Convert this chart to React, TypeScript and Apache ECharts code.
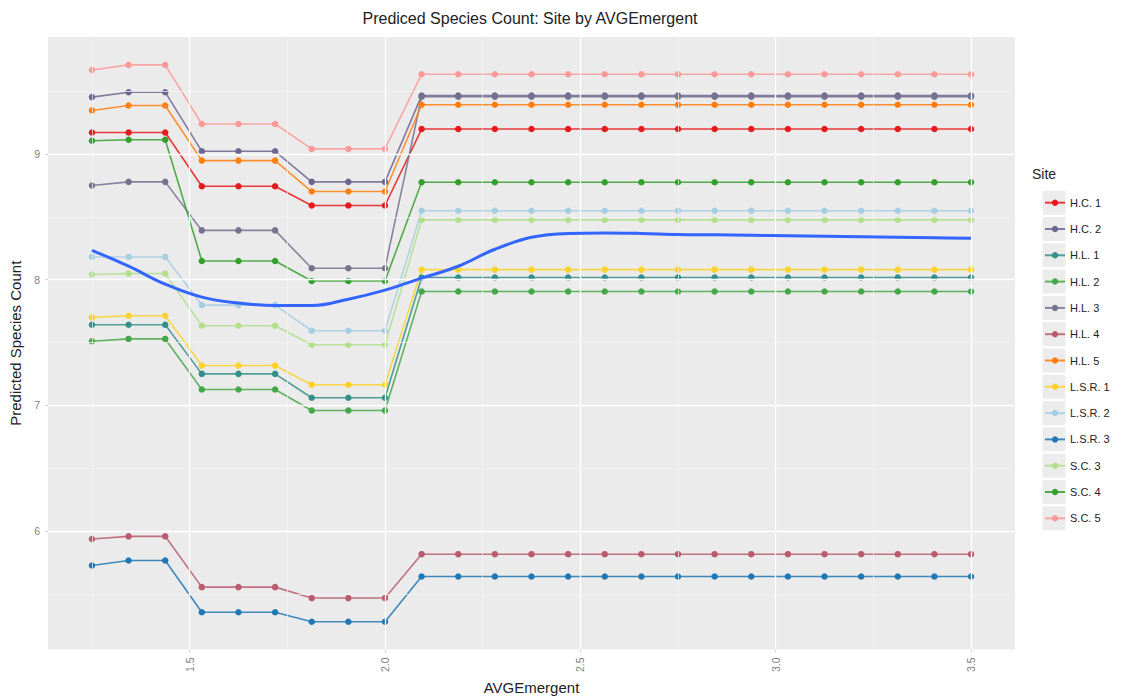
import React, { useEffect, useRef } from "react";
import * as echarts from "echarts";

const xValues = [
  1.25, 1.34375, 1.4375, 1.53125, 1.625, 1.71875, 1.8125, 1.90625, 2.0,
  2.09375, 2.1875, 2.28125, 2.375, 2.46875, 2.5625, 2.65625, 2.75, 2.84375,
  2.9375, 3.03125, 3.125, 3.21875, 3.3125, 3.40625, 3.5,
];

const siteNames = [
  "H.C. 1", "H.C. 2", "H.L. 1", "H.L. 2", "H.L. 3", "H.L. 4", "H.L. 5",
  "L.S.R. 1", "L.S.R. 2", "L.S.R. 3", "S.C. 3", "S.C. 4", "S.C. 5",
];

const siteColors = [
  "#e41a1c", "#6c6690", "#338f8a", "#45a848", "#76718e", "#b95b6d", "#ff8010",
  "#fcd22c", "#a6cee3", "#1f78b4", "#b2df8a", "#33a02c", "#fb9a99",
];

const hc1 = [9.171, 9.171, 9.171, 8.743, 8.743, 8.743, 8.59, 8.59, 8.59,
  9.198, 9.198, 9.198, 9.198, 9.198, 9.198, 9.198, 9.198, 9.198, 9.198, 9.198, 9.198, 9.198, 9.198, 9.198, 9.198];
const hc2 = [9.452, 9.491, 9.491, 9.021, 9.021, 9.021, 8.778, 8.778, 8.778,
  9.464, 9.464, 9.464, 9.464, 9.464, 9.464, 9.464, 9.464, 9.464, 9.464, 9.464, 9.464, 9.464, 9.464, 9.464, 9.464];
const hl1 = [7.642, 7.642, 7.642, 7.251, 7.251, 7.251, 7.061, 7.061, 7.061,
  8.017, 8.017, 8.017, 8.017, 8.017, 8.017, 8.017, 8.017, 8.017, 8.017, 8.017, 8.017, 8.017, 8.017, 8.017, 8.017];
const hl2 = [7.51, 7.529, 7.529, 7.127, 7.127, 7.127, 6.96, 6.96, 6.96,
  7.906, 7.906, 7.906, 7.906, 7.906, 7.906, 7.906, 7.906, 7.906, 7.906, 7.906, 7.906, 7.906, 7.906, 7.906, 7.906];
const hl3 = [8.749, 8.778, 8.778, 8.392, 8.392, 8.392, 8.091, 8.091, 8.091,
  9.455, 9.455, 9.455, 9.455, 9.455, 9.455, 9.455, 9.455, 9.455, 9.455, 9.455, 9.455, 9.455, 9.455, 9.455, 9.455];
const hl4 = [5.938, 5.959, 5.959, 5.555, 5.555, 5.555, 5.468, 5.468, 5.468,
  5.817, 5.817, 5.817, 5.817, 5.817, 5.817, 5.817, 5.817, 5.817, 5.817, 5.817, 5.817, 5.817, 5.817, 5.817, 5.817];
const hl5 = [9.346, 9.385, 9.385, 8.947, 8.947, 8.947, 8.701, 8.701, 8.701,
  9.391, 9.391, 9.391, 9.391, 9.391, 9.391, 9.391, 9.391, 9.391, 9.391, 9.391, 9.391, 9.391, 9.391, 9.391, 9.391];
const lsr1 = [7.7, 7.713, 7.713, 7.317, 7.317, 7.317, 7.164, 7.164, 7.164,
  8.08, 8.08, 8.08, 8.08, 8.08, 8.08, 8.08, 8.08, 8.08, 8.08, 8.08, 8.08, 8.08, 8.08, 8.08, 8.08];
const lsr2 = [8.181, 8.181, 8.181, 7.798, 7.798, 7.798, 7.594, 7.594, 7.594,
  8.548, 8.548, 8.548, 8.548, 8.548, 8.548, 8.548, 8.548, 8.548, 8.548, 8.548, 8.548, 8.548, 8.548, 8.548, 8.548];
const lsr3 = [5.727, 5.767, 5.767, 5.355, 5.355, 5.355, 5.28, 5.28, 5.28,
  5.64, 5.64, 5.64, 5.64, 5.64, 5.64, 5.64, 5.64, 5.64, 5.64, 5.64, 5.64, 5.64, 5.64, 5.64, 5.64];
const sc3 = [8.041, 8.049, 8.049, 7.634, 7.634, 7.634, 7.483, 7.483, 7.483,
  8.476, 8.476, 8.476, 8.476, 8.476, 8.476, 8.476, 8.476, 8.476, 8.476, 8.476, 8.476, 8.476, 8.476, 8.476, 8.476];
const sc4 = [9.105, 9.113, 9.113, 8.149, 8.149, 8.149, 7.99, 7.99, 7.99,
  8.775, 8.775, 8.775, 8.775, 8.775, 8.775, 8.775, 8.775, 8.775, 8.775, 8.775, 8.775, 8.775, 8.775, 8.775, 8.775];
const sc5 = [9.668, 9.708, 9.708, 9.238, 9.238, 9.238, 9.04, 9.04, 9.04,
  9.634, 9.634, 9.634, 9.634, 9.634, 9.634, 9.634, 9.634, 9.634, 9.634, 9.634, 9.634, 9.634, 9.634, 9.634, 9.634];

const smoothFit = [8.234, 8.107, 7.964, 7.861, 7.814, 7.794, 7.794, 7.845, 7.917,
  8.012, 8.107, 8.242, 8.337, 8.368, 8.372, 8.368, 8.36, 8.357, 8.353, 8.349,
  8.345, 8.341, 8.337, 8.333, 8.329];

const siteValues = [hc1, hc2, hl1, hl2, hl3, hl4, hl5, lsr1, lsr2, lsr3, sc3, sc4, sc5];

const xTicks = [1.5, 2.0, 2.5, 3.0, 3.5];
const xMinor = [1.25, 1.75, 2.25, 2.75, 3.25];
const yTicks = [6, 7, 8, 9];
const yMinor = [5.5, 6.5, 7.5, 8.5, 9.5];

const X_MIN = 1.1375;
const X_MAX = 3.6125;
const Y_MIN = 5.059;
const Y_MAX = 9.93;

const LEGEND_LEFT = 1044;
const LEGEND_TOP = 195.7;
const LEGEND_ROW_H = 14;
const LEGEND_STEP = 26.3;

export default function App() {
  const ref = useRef<HTMLDivElement>(null);

  useEffect(() => {
    document.body.style.margin = "0";
    if (!ref.current) return;
    const chart = echarts.init(ref.current, null, { renderer: "svg" });

    const gridLines = [
      ...xMinor.map((v) => ({ xAxis: v, lineStyle: { color: "#f5f5f5", width: 0.7, type: "solid" } })),
      ...yMinor.map((v) => ({ yAxis: v, lineStyle: { color: "#f5f5f5", width: 0.7, type: "solid" } })),
      ...xTicks.map((v) => ({ xAxis: v, lineStyle: { color: "#ffffff", width: 1.3, type: "solid" } })),
      ...yTicks.map((v) => ({ yAxis: v, lineStyle: { color: "#ffffff", width: 1.3, type: "solid" } })),
    ];

    const siteSeries = siteNames.map((name, k) => ({
      name,
      type: "line",
      data: xValues.map((x, i) => [x, siteValues[k][i]]),
      symbol: "circle",
      symbolSize: 6.5,
      showSymbol: true,
      z: 3,
      lineStyle: { width: 1.6, color: siteColors[k], opacity: 0.85 },
      itemStyle: { color: siteColors[k] },
      emphasis: { disabled: true },
    }));

    const keyRects = siteNames.map((_, i) => ({
      type: "rect",
      shape: { x: 1042, y: LEGEND_TOP + LEGEND_ROW_H / 2 + i * LEGEND_STEP - 12.5, width: 24, height: 25 },
      style: { fill: "#ececec", stroke: "#ffffff", lineWidth: 1 },
      z: -1,
      silent: true,
    }));

    chart.setOption({
      animation: false,
      backgroundColor: "#ffffff",
      textStyle: { fontFamily: "Liberation Sans, Arial, sans-serif" },
      grid: {
        left: 45,
        right: 113,
        top: 37,
        bottom: 49,
        show: true,
        backgroundColor: "#ebebeb",
        borderWidth: 0,
      },
      xAxis: {
        type: "value",
        min: X_MIN,
        max: X_MAX,
        name: "AVGEmergent",
        nameLocation: "middle",
        nameGap: 30,
        nameTextStyle: { color: "#222222", fontSize: 15 },
        axisLine: { show: false },
        axisTick: { show: true, customValues: xTicks, length: 3, lineStyle: { color: "#d0d0d0" } },
        splitLine: { show: false },
        axisLabel: {
          customValues: xTicks,
          rotate: 90,
          color: "#7f7f7f",
          fontSize: 10.5,
          margin: 8,
          formatter: (v: number) => v.toFixed(1),
        },
      },
      yAxis: {
        type: "value",
        min: Y_MIN,
        max: Y_MAX,
        name: "Predicted Species Count",
        nameLocation: "middle",
        nameGap: 25,
        nameTextStyle: { color: "#222222", fontSize: 15 },
        axisLine: { show: false },
        axisTick: { show: true, customValues: yTicks, length: 3, lineStyle: { color: "#d0d0d0" } },
        splitLine: { show: false },
        axisLabel: {
          customValues: yTicks,
          color: "#7f7f7f",
          fontSize: 10.5,
          margin: 8,
        },
      },
      legend: {
        show: true,
        orient: "vertical",
        left: LEGEND_LEFT,
        top: LEGEND_TOP,
        padding: 0,
        itemWidth: 20,
        itemHeight: 8,
        itemGap: LEGEND_STEP - LEGEND_ROW_H,
        data: siteNames,
        textStyle: { color: "#222222", fontSize: 11, lineHeight: LEGEND_ROW_H, height: LEGEND_ROW_H },
        selectedMode: false,
      },
      graphic: [
        {
          type: "text",
          x: 530,
          y: 18,
          style: {
            text: "Prediced Species Count: Site by AVGEmergent",
            fill: "#222222",
            fontSize: 16,
            fontFamily: "Liberation Sans, Arial, sans-serif",
            textAlign: "center",
            textVerticalAlign: "middle",
          },
        },
        {
          type: "text",
          x: 1032,
          y: 174,
          style: {
            text: "Site",
            fill: "#222222",
            fontSize: 14,
            fontFamily: "Liberation Sans, Arial, sans-serif",
            textAlign: "left",
            textVerticalAlign: "middle",
          },
        },
        ...keyRects,
      ],
      series: [
        {
          name: "__grid",
          type: "line",
          data: [],
          z: 1,
          silent: true,
          markLine: {
            silent: true,
            symbol: ["none", "none"],
            label: { show: false },
            emphasis: { disabled: true },
            animation: false,
            data: gridLines,
          },
        },
        ...siteSeries,
        {
          name: "__fit",
          type: "line",
          data: xValues.map((x, i) => [x, smoothFit[i]]),
          smooth: 0.4,
          showSymbol: false,
          symbol: "none",
          z: 5,
          lineStyle: { width: 3, color: "#3366ff" },
          itemStyle: { color: "#3366ff" },
          emphasis: { disabled: true },
        },
      ],
    });

    return () => chart.dispose();
  }, []);

  return (
    <div
      ref={ref}
      style={{ position: "fixed", left: 0, top: 0, width: 1128, height: 700 }}
    />
  );
}
